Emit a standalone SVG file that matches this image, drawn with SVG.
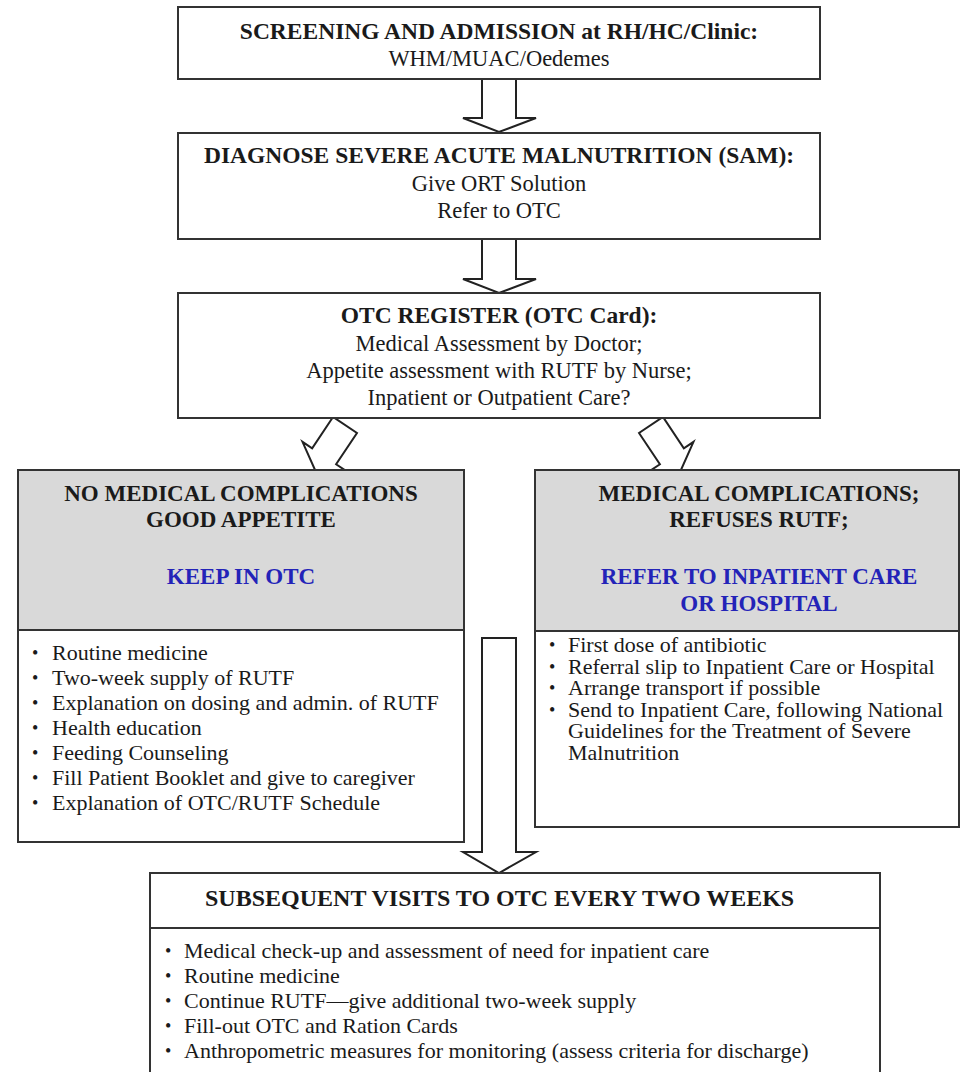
<svg xmlns="http://www.w3.org/2000/svg" width="961" height="1072" viewBox="0 0 961 1072">
<style>
.box{fill:#fff;stroke:#333;stroke-width:2}
.hdr{fill:#d9d9d9;stroke:none}
.div{stroke:#333;stroke-width:2}
.arr{fill:#fff;stroke:#222;stroke-width:2;stroke-linejoin:miter}
text{font-family:"Liberation Serif","Times New Roman",serif;fill:#1a1a1a}
.t{font-size:23.5px;font-weight:bold;text-anchor:middle}
.r{font-size:22.5px;text-anchor:middle}
.h{font-size:23px;font-weight:bold;text-anchor:middle}
.b{font-size:23px;font-weight:bold;text-anchor:middle;fill:#2323b8}
.l{font-size:22px}
.bl{font-size:18px}
</style>
<rect width="961" height="1072" fill="#fff"/>
<g id="connectors">
<polygon class="arr" points="482,79 482,118 463,118 499,132 536,118 516,118 516,79"/>
<polygon class="arr" points="482,239 482,279 463,279 499,293 536,279 516,279 516,239"/>
<polygon class="arr" transform="translate(345,425) rotate(33.7)" points="-14.4,0 -14.4,37.6 -26,37.6 0,54 26,37.6 14.4,37.6 14.4,0"/>
<polygon class="arr" transform="translate(651,425) rotate(-33.7)" points="-14.4,0 -14.4,37.6 -26,37.6 0,54 26,37.6 14.4,37.6 14.4,0"/>
<polygon class="arr" points="482,638 482,852 463,852 499,873 536,852 516,852 516,638"/>
</g>
<g id="screening">
<rect class="box" x="178" y="7" width="642" height="72"/>
<text class="t" x="499" y="39">SCREENING AND ADMISSION at RH/HC/Clinic:</text>
<text class="r" x="499" y="66">WHM/MUAC/Oedemes</text>
</g>
<g id="diagnose">
<rect class="box" x="178" y="133" width="642" height="106"/>
<text class="t" x="499" y="163">DIAGNOSE SEVERE ACUTE MALNUTRITION (SAM):</text>
<text class="r" x="499" y="191">Give ORT Solution</text>
<text class="r" x="499" y="218">Refer to OTC</text>
</g>
<g id="register">
<rect class="box" x="178" y="293" width="642" height="125"/>
<text class="t" x="499" y="323">OTC REGISTER (OTC Card):</text>
<text class="r" x="499" y="351">Medical Assessment by Doctor;</text>
<text class="r" x="499" y="378">Appetite assessment with RUTF by Nurse;</text>
<text class="r" x="499" y="405">Inpatient or Outpatient Care?</text>
</g>
<g id="keep-otc">
<rect class="box" x="18" y="470" width="446" height="372"/>
<rect class="hdr" x="19" y="471" width="444" height="159"/>
<line class="div" x1="18" y1="630" x2="464" y2="630"/>
<text class="h" x="241" y="501">NO MEDICAL COMPLICATIONS</text>
<text class="h" x="241" y="527">GOOD APPETITE</text>
<text class="b" x="241" y="584">KEEP IN OTC</text>
<text class="bl" x="32" y="659">•</text><text class="l" x="52" y="660">Routine medicine</text>
<text class="bl" x="32" y="684">•</text><text class="l" x="52" y="685">Two-week supply of RUTF</text>
<text class="bl" x="32" y="709">•</text><text class="l" x="52" y="710">Explanation on dosing and admin. of RUTF</text>
<text class="bl" x="32" y="734">•</text><text class="l" x="52" y="735">Health education</text>
<text class="bl" x="32" y="759">•</text><text class="l" x="52" y="760">Feeding Counseling</text>
<text class="bl" x="32" y="784">•</text><text class="l" x="52" y="785">Fill Patient Booklet and give to caregiver</text>
<text class="bl" x="32" y="809">•</text><text class="l" x="52" y="810">Explanation of OTC/RUTF Schedule</text>
</g>
<g id="refer-inpatient">
<rect class="box" x="535" y="470" width="424" height="357"/>
<rect class="hdr" x="536" y="471" width="422" height="160"/>
<line class="div" x1="535" y1="631" x2="959" y2="631"/>
<text class="h" x="759" y="501">MEDICAL COMPLICATIONS;</text>
<text class="h" x="759" y="527">REFUSES RUTF;</text>
<text class="b" x="759" y="584">REFER TO INPATIENT CARE</text>
<text class="b" x="759" y="611">OR HOSPITAL</text>
<text class="bl" x="549" y="651">•</text><text class="l" x="568" y="652">First dose of antibiotic</text>
<text class="bl" x="549" y="672.5">•</text><text class="l" x="568" y="673.5">Referral slip to Inpatient Care or Hospital</text>
<text class="bl" x="549" y="694">•</text><text class="l" x="568" y="695">Arrange transport if possible</text>
<text class="bl" x="549" y="715.5">•</text><text class="l" x="568" y="716.5">Send to Inpatient Care, following National<tspan x="568" dy="21.5">Guidelines for the Treatment of Severe</tspan><tspan x="568" dy="21.5">Malnutrition</tspan></text>
</g>
<g id="subsequent-visits">
<rect class="box" x="150" y="873" width="730" height="230"/>
<line class="div" x1="150" y1="928" x2="880" y2="928"/>
<text x="205" y="906" style="font-size:24px;font-weight:bold">SUBSEQUENT VISITS TO OTC EVERY TWO WEEKS</text>
<text class="bl" x="165" y="957">•</text><text class="l" x="184" y="958">Medical check-up and assessment of need for inpatient care</text>
<text class="bl" x="165" y="982">•</text><text class="l" x="184" y="983">Routine medicine</text>
<text class="bl" x="165" y="1007">•</text><text class="l" x="184" y="1008">Continue RUTF—give additional two-week supply</text>
<text class="bl" x="165" y="1032">•</text><text class="l" x="184" y="1033">Fill-out OTC and Ration Cards</text>
<text class="bl" x="165" y="1057">•</text><text class="l" x="184" y="1058">Anthropometric measures for monitoring (assess criteria for discharge)</text>
</g>
</svg>
